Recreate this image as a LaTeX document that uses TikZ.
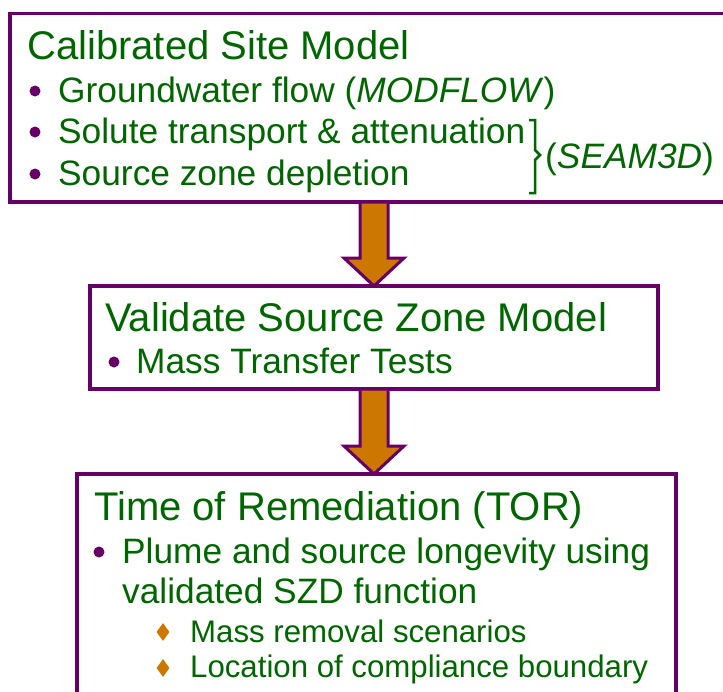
\documentclass[tikz,border=0pt]{standalone}
\usepackage{fontspec}
\setmainfont{Liberation Sans}
\usepackage{tikz}
\usepackage{xcolor}
\usetikzlibrary{shapes.geometric, positioning, calc}
\definecolor{cGreen}{RGB}{0,102,0}
\definecolor{cPurple}{RGB}{102,0,102}
\definecolor{cOrange}{RGB}{204,119,0}
\tikzset{
	box/.style      ={rectangle, draw=cPurple, line width=3.8pt, fill=white, anchor=north west, outer sep=0pt, inner sep=0pt},
	ttl/.style      ={anchor=base west, inner sep=0pt, text=cGreen, font=\fontsize{40}{40}\selectfont},
	item/.style     ={anchor=base west, inner sep=0pt, text=cGreen, font=\fontsize{35.3}{35.3}\selectfont},
	subitem/.style  ={anchor=base west, inner sep=0pt, text=cGreen, font=\fontsize{31.2}{31.2}\selectfont},
	dot/.style      ={circle, fill=cPurple, minimum size=11pt, inner sep=0pt},
	dia/.style      ={diamond, fill=cOrange, minimum width=13pt, minimum height=18pt, inner sep=0pt},
	fatarrow/.style ={draw=cPurple, fill=cOrange, line width=3pt, line join=miter},
}
% block arrow from the lower edge of #1 down to the tip #2
\newcommand{\blockarrow}[2]{%
	\draw[fatarrow] let \p1=(#1), \p2=(#2) in
		(\x2-14pt,\y1) -- (\x2-14pt,\y2+28pt) -- (\x2-30pt,\y2+28pt) -- (\x2,\y2)
		-- (\x2+30pt,\y2+28pt) -- (\x2+14pt,\y2+28pt) -- (\x2+14pt,\y1) -- cycle;}
\begin{document}
\begin{tikzpicture}[x=1pt, y=-1pt]
	\useasboundingbox (0,0) rectangle (723,691);
	\clip (0,0) rectangle (723,691);
	% boxes
	\node[box, minimum width=730pt, minimum height=188.5pt] (csm) at (10,13.5) {};
	\node[box, minimum width=568pt, minimum height=103pt] (szm) at (90,286) {};
	\node[box, minimum width=599pt, minimum height=246pt] (tor) at (77,474) {};
	\blockarrow{csm.south}{szm.north}
	\blockarrow{szm.south}{tor.north -| szm.south}
	% calibrated site model
	\node[ttl] (csmT) at (27,59) {Calibrated Site Model};
	\node[dot] (d1) at (35,91) {};
	\node[item] (gw) at (58,102) {Groundwater flow (\textit{MODFLOW})};
	\node[dot] (d2) at (35,132) {};
	\node[item] (st) at (58,143) {Solute transport \& attenuation};
	\node[dot] (d3) at (35,174) {};
	\node[item] (sz) at (58,185) {Source zone depletion};
	\draw[cGreen, line width=2.5pt] (529,120) -- (535,120) -- (535,150) -- (540,155)
		-- (535,160) -- (535,193) -- (529,193);
	\node[item] (seam) at (545,168) {(\textit{SEAM3D})};
	% validate source zone model
	\node[ttl] (szmT) at (105,331) {Validate Source Zone Model};
	\node[dot] (d4) at (114,362) {};
	\node[item] (mtt) at (136,373) {Mass Transfer Tests};
	% time of remediation
	\node[ttl] (torT) at (94,520) {Time of Remediation (TOR)};
	\node[dot] (d5) at (99,552) {};
	\node[item] (pl1) at (122,563) {Plume and source longevity using};
	\node[item] (pl2) at (122,603) {validated SZD function};
	\node[dia] (s1) at (163,632) {};
	\node[subitem] (mr) at (190,642) {Mass removal scenarios};
	\node[dia] (s2) at (163,668) {};
	\node[subitem] (lc) at (190,677) {Location of compliance boundary};
\end{tikzpicture}
\end{document}
